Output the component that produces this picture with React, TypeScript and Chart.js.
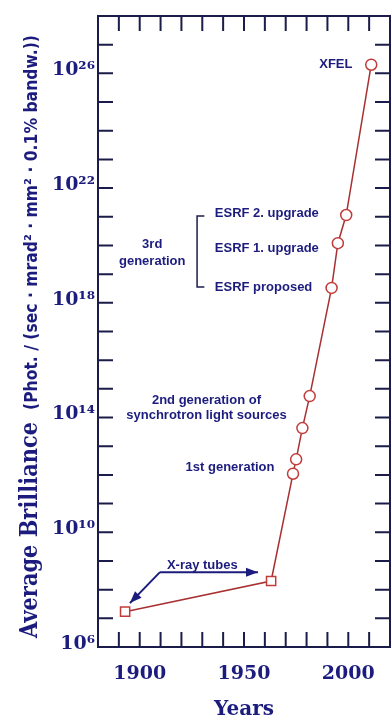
import React, { useEffect, useRef } from 'react';
import { Chart, registerables } from 'chart.js';

Chart.register(...registerables);

// ---- data ----
const years = [1893, 1963, 1973.5, 1975, 1978, 1981.5, 1992, 1995, 1999, 2011];
const brilliance = [1.7e7, 2e8, 1.1e12, 3.5e12, 4.3e13, 5.6e14, 3.3e18, 1.2e20, 1.15e21, 2e26];
const markerShapes = ['rect', 'rect', 'circle', 'circle', 'circle', 'circle', 'circle', 'circle', 'circle', 'circle'];

const xTickYears = [1880, 1890, 1900, 1910, 1920, 1930, 1940, 1950, 1960, 1970, 1980, 1990, 2000, 2010, 2020];
const xLabelYears = [1900, 1950, 2000];
const yTickExponents = [6, 7, 8, 9, 10, 11, 12, 13, 14, 15, 16, 17, 18, 19, 20, 21, 22, 23, 24, 25, 26, 27, 28];
const yLabelExponents = [6, 10, 14, 18, 22, 26];

const yTitleMain = 'Average Brilliance';
const yTitleUnit = '(Phot. / (sec · mrad² · mm² · 0.1% bandw.))';
const xTitle = 'Years';

const notes = [
  { text: 'XFEL', year: 2002, exp: 26.3, align: 'right' },
  { text: 'ESRF 2. upgrade', year: 1936, exp: 21.13, align: 'left' },
  { text: 'ESRF 1. upgrade', year: 1936, exp: 19.88, align: 'left' },
  { text: 'ESRF proposed', year: 1936, exp: 18.55, align: 'left' },
  { text: '3rd', year: 1906, exp: 20.05, align: 'center' },
  { text: 'generation', year: 1906, exp: 19.46, align: 'center' },
  { text: '2nd generation of', year: 1932, exp: 14.61, align: 'center' },
  { text: 'synchrotron light sources', year: 1932, exp: 14.09, align: 'center' },
  { text: '1st generation', year: 1943.3, exp: 12.27, align: 'center' },
  { text: 'X-ray tubes', year: 1930, exp: 8.86, align: 'center' },
];

const NAVY = '#1c1c7e';
const FRAME = '#1c1c4a';
const SUP = '⁰¹²³⁴⁵⁶⁷⁸⁹';
const sup = (n: number) => String(n).split('').map((d) => SUP[Number(d)]).join('');

function drawArrow(ctx: CanvasRenderingContext2D, x1: number, y1: number, x2: number, y2: number) {
  ctx.beginPath();
  ctx.moveTo(x1, y1);
  ctx.lineTo(x2, y2);
  ctx.stroke();
  const a = Math.atan2(y2 - y1, x2 - x1);
  const L = 12, W = 4.5;
  ctx.beginPath();
  ctx.moveTo(x2, y2);
  ctx.lineTo(x2 - L * Math.cos(a) + W * Math.sin(a), y2 - L * Math.sin(a) - W * Math.cos(a));
  ctx.lineTo(x2 - L * Math.cos(a) - W * Math.sin(a), y2 - L * Math.sin(a) + W * Math.cos(a));
  ctx.closePath();
  ctx.fill();
}

function drawRotated(ctx: CanvasRenderingContext2D, text: string, font: string, x: number, y: number, length: number, thick: number) {
  ctx.font = font;
  const w = ctx.measureText(text).width;
  ctx.save();
  ctx.translate(x, y);
  ctx.rotate(-Math.PI / 2);
  ctx.scale(length / w, thick);
  ctx.textAlign = 'left';
  ctx.textBaseline = 'alphabetic';
  ctx.fillText(text, 0, 0);
  ctx.restore();
}

const framePlugin = {
  id: 'frameTicks',
  beforeDatasetsDraw(chart: any) {
    const { ctx, chartArea } = chart;
    const { left, right, top, bottom } = chartArea;
    const xs = chart.scales.x;
    const ys = chart.scales.y;
    ctx.save();
    ctx.strokeStyle = FRAME;
    ctx.lineWidth = 2;
    ctx.strokeRect(left, top, right - left, bottom - top);
    const T = 15;
    ctx.beginPath();
    xs.ticks.forEach((t: any) => {
      const p = xs.getPixelForValue(t.value);
      if (p <= left + 1 || p >= right - 1) return;
      ctx.moveTo(p, bottom);
      ctx.lineTo(p, bottom - T);
      ctx.moveTo(p, top);
      ctx.lineTo(p, top + T);
    });
    ys.ticks.forEach((t: any) => {
      const p = ys.getPixelForValue(t.value);
      if (p <= top + 1 || p >= bottom - 1) return;
      ctx.moveTo(left, p);
      ctx.lineTo(left + T, p);
      ctx.moveTo(right, p);
      ctx.lineTo(right - T, p);
    });
    ctx.stroke();
    ctx.restore();
  },
  afterDatasetsDraw(chart: any) {
    const { ctx } = chart;
    const xs = chart.scales.x;
    const ys = chart.scales.y;
    const px = (v: number) => xs.getPixelForValue(v);
    const py = (e: number) => ys.getPixelForValue(Math.pow(10, e));
    ctx.save();
    ctx.fillStyle = NAVY;
    ctx.font = 'bold 13px "Liberation Sans", Arial, sans-serif';
    ctx.textBaseline = 'middle';
    notes.forEach((n) => {
      ctx.textAlign = n.align as CanvasTextAlign;
      ctx.fillText(n.text, px(n.year), py(n.exp));
    });
    // 3rd generation bracket
    ctx.strokeStyle = FRAME;
    ctx.lineWidth = 1.5;
    ctx.beginPath();
    ctx.moveTo(px(1931), py(21.03));
    ctx.lineTo(px(1927.5), py(21.03));
    ctx.lineTo(px(1927.5), py(18.55));
    ctx.lineTo(px(1931), py(18.55));
    ctx.stroke();
    // X-ray tube arrows
    ctx.strokeStyle = NAVY;
    ctx.fillStyle = NAVY;
    ctx.lineWidth = 2;
    drawArrow(ctx, px(1909.7), py(8.61), px(1956.7), py(8.61));
    drawArrow(ctx, px(1909.7), py(8.61), px(1895.3), py(7.53));
    ctx.restore();
  },
  afterDraw(chart: any) {
    const { ctx, chartArea } = chart;
    ctx.save();
    ctx.fillStyle = NAVY;
    drawRotated(ctx, yTitleMain, 'bold 18px "DejaVu Serif", serif', 37, chartArea.bottom - 9, 216, 1.35);
    drawRotated(ctx, yTitleUnit, 'bold 13px "DejaVu Sans", sans-serif', 37, chartArea.bottom - 237, 375, 1.3);
    ctx.restore();
  },
};

export default function App() {
  const ref = useRef<HTMLCanvasElement | null>(null);

  useEffect(() => {
    if (!ref.current) return;
    const chart = new Chart(ref.current, {
      type: 'line',
      data: {
        datasets: [
          {
            data: years.map((x, i) => ({ x, y: brilliance[i] })),
            borderColor: '#a83030',
            borderWidth: 1.5,
            pointStyle: markerShapes as any,
            pointRadius: markerShapes.map((s) => (s === 'rect' ? 6.5 : 5.5)),
            pointBackgroundColor: '#ffffff',
            pointBorderColor: '#c23b3b',
            pointBorderWidth: 1.5,
            tension: 0,
          },
        ],
      },
      options: {
        animation: false,
        responsive: false,
        devicePixelRatio: 1,
        layout: { autoPadding: false, padding: { top: 16, right: 1, left: 0, bottom: 0 } },
        plugins: { legend: { display: false }, tooltip: { enabled: false } },
        scales: {
          x: {
            type: 'linear',
            min: 1880,
            max: 2020,
            grid: { display: false, drawTicks: false },
            border: { display: false },
            afterBuildTicks: (s: any) => {
              s.ticks = xTickYears.map((v) => ({ value: v }));
            },
            afterFit: (s: any) => {
              s.height = 77;
              s.paddingLeft = 0;
              s.paddingRight = 0;
            },
            ticks: {
              autoSkip: false,
              maxRotation: 0,
              padding: 16,
              color: NAVY,
              font: { family: '"DejaVu Serif", serif', weight: 'bold', size: 19 },
              callback: (v: any) => (xLabelYears.includes(Number(v)) ? String(v) : ''),
            },
            title: {
              display: true,
              text: xTitle,
              color: NAVY,
              font: { family: '"DejaVu Serif", serif', weight: 'bold', size: 20 },
              padding: { top: 0, bottom: 2 },
            },
          },
          y: {
            type: 'logarithmic',
            min: 1e6,
            max: 1e28,
            grid: { display: false, drawTicks: false },
            border: { display: false },
            afterBuildTicks: (s: any) => {
              s.ticks = yTickExponents.map((e) => ({ value: Math.pow(10, e) }));
            },
            afterFit: (s: any) => {
              s.width = 98;
              s.paddingTop = 0;
              s.paddingBottom = 0;
            },
            ticks: {
              autoSkip: false,
              padding: 3,
              labelOffset: -3,
              color: NAVY,
              font: { family: '"DejaVu Serif", serif', weight: 'bold', size: 19 },
              callback: (v: any) => {
                const e = Math.round(Math.log10(Number(v)));
                return yLabelExponents.includes(e) ? '10' + sup(e) : '';
              },
            },
          },
        },
      },
      plugins: [framePlugin],
    } as any);
    return () => chart.destroy();
  }, []);

  return (
    <div style={{ position: 'fixed', left: 0, top: 0, width: 391, height: 724, background: '#ffffff' }}>
      <canvas ref={ref} width={391} height={724} />
    </div>
  );
}
